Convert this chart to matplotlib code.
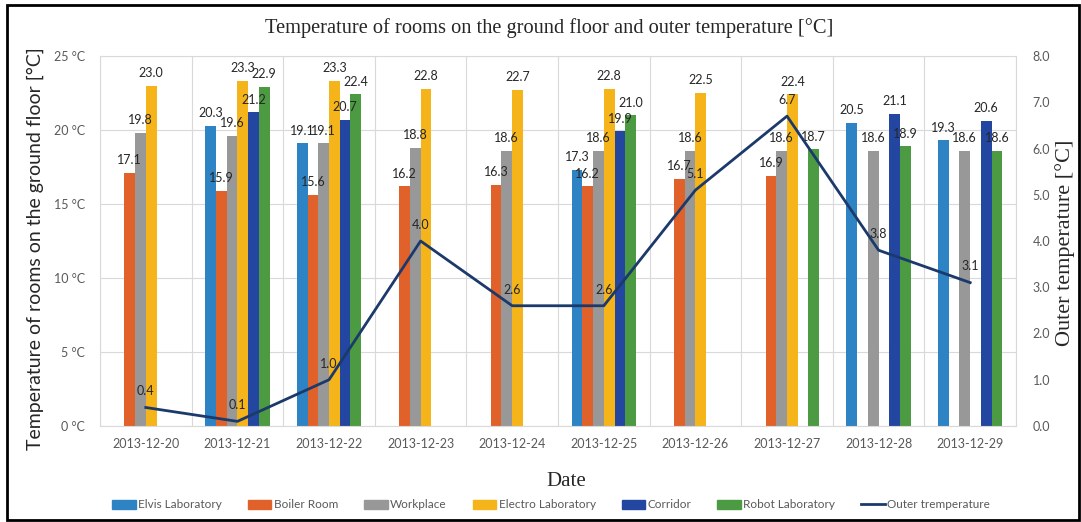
import numpy as np
import matplotlib
matplotlib.use("Agg")
import matplotlib.pyplot as plt
from matplotlib.patches import Rectangle
from matplotlib.lines import Line2D

dates = ["2013-12-20", "2013-12-21", "2013-12-22", "2013-12-23", "2013-12-24",
         "2013-12-25", "2013-12-26", "2013-12-27", "2013-12-28", "2013-12-29"]
nan = np.nan
elvis = [nan, 20.3, 19.1, nan, nan, 17.3, nan, nan, 20.5, 19.3]
boiler = [17.1, 15.9, 15.6, 16.2, 16.3, 16.2, 16.7, 16.9, nan, nan]
workplace = [19.8, 19.6, 19.1, 18.8, 18.6, 18.6, 18.6, 18.6, 18.6, 18.6]
electro = [23.0, 23.3, 23.3, 22.8, 22.7, 22.8, 22.5, 22.4, nan, nan]
corridor = [nan, 21.2, 20.7, nan, nan, 19.9, nan, nan, 21.1, 20.6]
robot = [nan, 22.9, 22.4, nan, nan, 21.0, nan, 18.7, 18.9, 18.6]
outer = [0.4, 0.1, 1.0, 4.0, 2.6, 2.6, 5.1, 6.7, 3.8, 3.1]

series_names = ["Elvis Laboratory", "Boiler Room", "Workplace", "Electro Laboratory",
                "Corridor", "Robot Laboratory"]
series_vals = [elvis, boiler, workplace, electro, corridor, robot]
colors = ["#2E83C4", "#E0622A", "#989898", "#F4B41A", "#2347A0", "#4C9B43"]
line_color = "#1B3A6B"
tick_color = "#595959"

SANS = ["Lato", "DejaVu Sans"]
SERIF = ["Liberation Serif", "DejaVu Serif"]

fig = plt.figure(figsize=(10.81, 5.22), dpi=100)
ax = fig.add_axes([100/1081, 1-426/522, 916/1081, 370/522])
ax2 = ax.twinx()

x = np.arange(len(dates))
w = 0.117
for i, (name, vals, c) in enumerate(zip(series_names, series_vals, colors)):
    v = np.array(vals, dtype=float)
    off = (i - 2.5) * w
    ax.bar(x + off, v, width=w, color=c, label=name, zorder=2)
    for xi, vi in zip(x, v):
        if not np.isnan(vi):
            ax.text(xi + off, vi + 0.45, f"{vi:.1f}", ha="center", va="bottom",
                    fontsize=9, family=SANS, color="#262626", zorder=5)

ax.set_xlim(-0.5, len(dates) - 0.5)
ax.set_ylim(0, 25)
ax.set_yticks([0, 5, 10, 15, 20, 25])
ax.set_yticklabels([f"{t} °C" for t in [0, 5, 10, 15, 20, 25]])
ax.set_xticks(x)
ax.set_xticklabels(dates)
ax.set_xticks(np.arange(-0.5, len(dates)), minor=True)
ax.grid(axis="y", color="#D9D9D9", lw=0.8, zorder=0)
ax.grid(axis="x", which="minor", color="#D9D9D9", lw=0.8, zorder=0)
ax.tick_params(axis="both", which="both", length=0, colors=tick_color, labelsize=9)
for lab in ax.get_xticklabels() + ax.get_yticklabels():
    lab.set_family(SANS)
ax.tick_params(axis="x", pad=9)
ax.tick_params(axis="y", pad=11)
for sp in ax.spines.values():
    sp.set_color("#D9D9D9")
    sp.set_linewidth(0.8)

ax2.plot(x, outer, color=line_color, lw=2, zorder=4)
for xi, vi in zip(x, outer):
    ax2.text(xi, vi + 0.22, f"{vi:.1f}", ha="center", va="bottom", fontsize=9,
             family=SANS, color="#262626", zorder=6)
ax2.set_ylim(0, 8)
ax2.set_yticks(np.arange(0, 8.1, 1))
ax2.set_yticklabels([f"{t:.1f}" for t in np.arange(0, 8.1, 1)])
ax2.tick_params(axis="y", length=0, colors=tick_color, labelsize=9, pad=12)
for lab in ax2.get_yticklabels():
    lab.set_family(SANS)
for sp in ax2.spines.values():
    sp.set_visible(False)

fig.text(35/1081, 1-249/522, "Temperature of rooms on the ground floor [°C]",
         rotation=90, ha="center", va="center", fontsize=14, family=SANS, color="#262626")
fig.text(1065/1081, 1-243/522, "Outer temperature [°C]", rotation=90,
         ha="center", va="center", fontsize=16, family=SERIF, color="#262626")
fig.text(566/1081, 1-482/522, "Date", ha="center", va="center", fontsize=15,
         family=SERIF, color="#262626")
fig.text(549/1081, 1-28/522, "Temperature of rooms on the ground floor and outer temperature [°C]",
         ha="center", va="center", fontsize=14.7, family=SERIF, color="#262626")

handles = [Rectangle((0, 0), 1, 1, color=c) for c in colors]
handles.append(Line2D([0], [0], color=line_color, lw=2))
labels = series_names + ["Outer tremperature"]
leg = fig.legend(handles, labels, loc="center", bbox_to_anchor=(551/1081, 1-505/522),
                 ncol=7, frameon=False, prop={"family": SANS, "size": 8.5},
                 handlelength=2.0, handleheight=0.7, columnspacing=2.2, handletextpad=0.2)
for t in leg.get_texts():
    t.set_color(tick_color)

fig.patches.append(Rectangle((7/1081, 2/522), 1072/1081, 515/522, transform=fig.transFigure,
                             fill=False, edgecolor="black", lw=2))

fig.savefig("out.png", dpi=100)
